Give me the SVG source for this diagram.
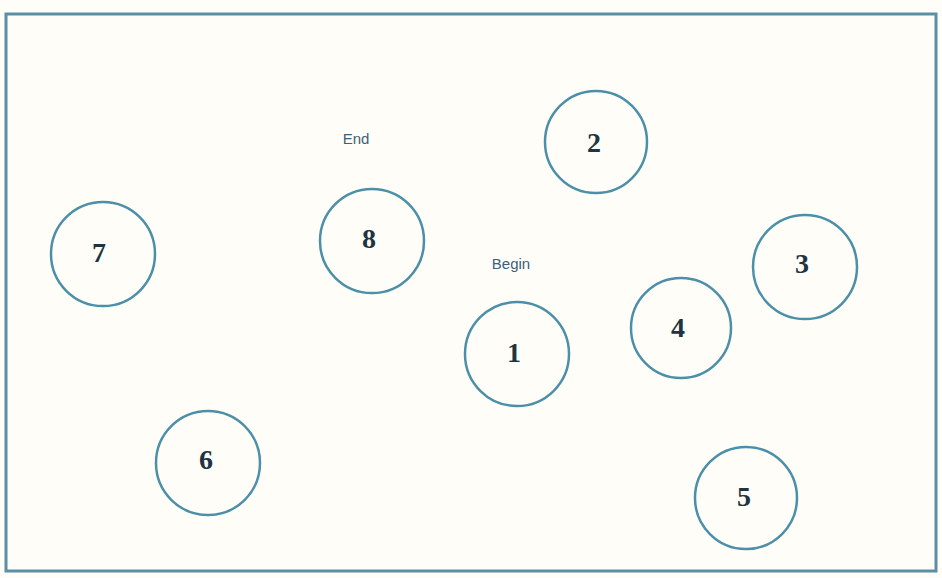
<svg xmlns="http://www.w3.org/2000/svg" width="942" height="578" viewBox="0 0 942 578">
<style>
.n circle{fill:none;stroke:#4b8fa8;stroke-width:2.5}
.n text{font-family:"Liberation Serif",serif;font-weight:bold;font-size:28px;fill:#1e3442;text-anchor:middle;dominant-baseline:central}
.lbl{font-family:"Liberation Sans",sans-serif;font-size:15px;fill:#3d6078;text-anchor:middle;dominant-baseline:central}
</style>
<rect width="942" height="578" fill="#fffdf8"/>
<rect x="6" y="14" width="930" height="557" fill="none" stroke="#5b8fa6" stroke-width="3"/>
<g id="connectors"></g>
<text class="lbl" x="356" y="138">End</text>
<text class="lbl" x="511" y="263">Begin</text>
<g id="node1" class="n"><circle cx="517" cy="354" r="52"/><text x="514" y="352">1</text></g>
<g id="node2" class="n"><circle cx="596" cy="142" r="51"/><text x="594" y="142">2</text></g>
<g id="node3" class="n"><circle cx="805" cy="267" r="52"/><text x="802" y="263">3</text></g>
<g id="node4" class="n"><circle cx="681" cy="328" r="50"/><text x="678" y="327">4</text></g>
<g id="node5" class="n"><circle cx="746" cy="498" r="51"/><text x="744" y="496">5</text></g>
<g id="node6" class="n"><circle cx="208" cy="463" r="52"/><text x="206" y="459">6</text></g>
<g id="node7" class="n"><circle cx="103" cy="254" r="52"/><text x="99" y="252">7</text></g>
<g id="node8" class="n"><circle cx="372" cy="241" r="52"/><text x="369" y="238">8</text></g>
</svg>
